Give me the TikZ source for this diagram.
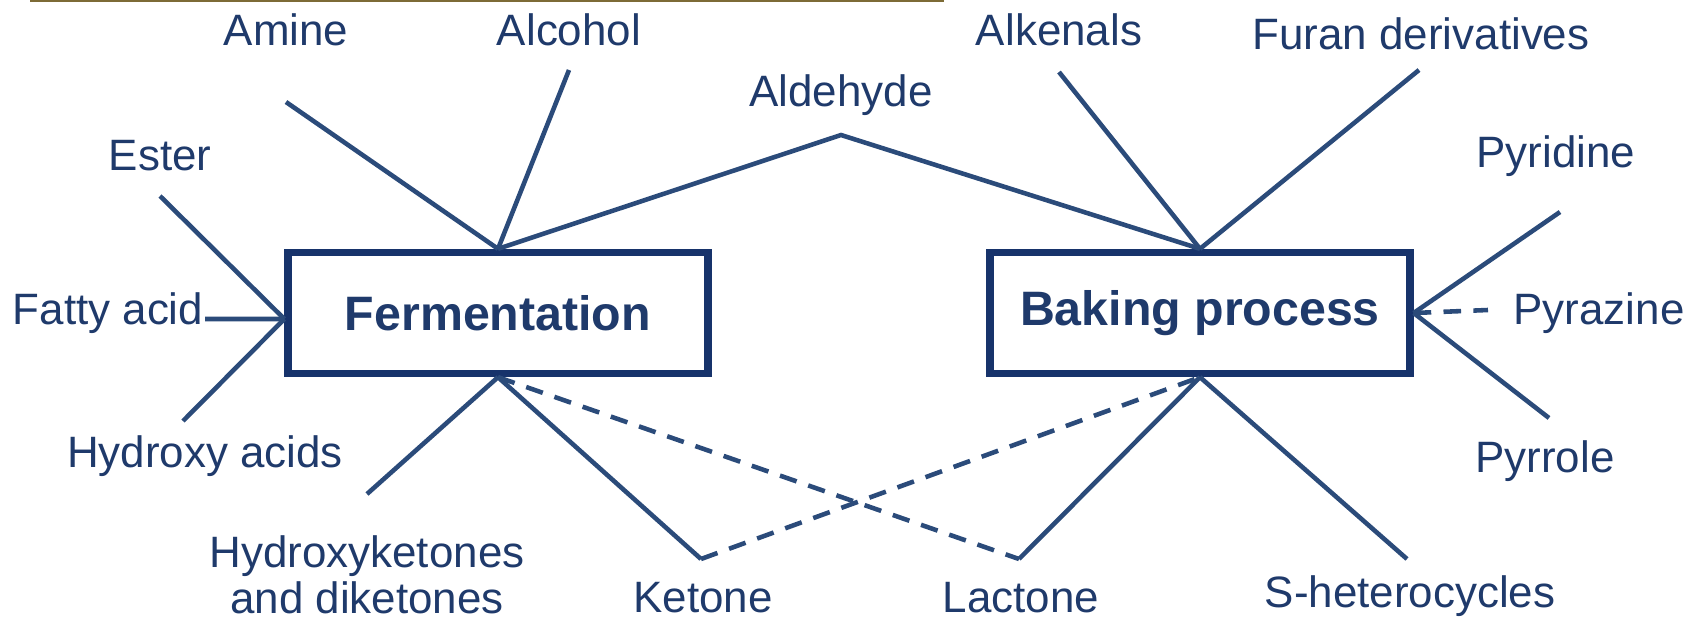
\documentclass[tikz,border=0pt]{standalone}
\usepackage{fontspec}
\setmainfont{Liberation Sans}
\usepackage{xcolor}
\definecolor{navy}{HTML}{1F3A6B}
\definecolor{inkblue}{HTML}{2B4B7A}
\definecolor{boxblue}{HTML}{17336B}
\definecolor{gilt}{HTML}{7D6B36}
\usetikzlibrary{positioning}
\tikzset{
  proc/.style ={draw=boxblue,line width=4.2pt,fill=white,
                minimum width=8.4cm,minimum height=2.42cm,
                font=\fontsize{27.5}{30}\selectfont\bfseries,text=navy},
  lbl/.style  ={font=\fontsize{25}{26.5}\selectfont,text=navy,
                inner sep=0pt,align=center},
  link/.style ={draw=inkblue,line width=2.6pt},
  weak/.style ={link,dash pattern=on 10pt off 7pt},
}

\begin{document}
\begin{tikzpicture}[x=0.02cm,y=-0.02cm]
\useasboundingbox (0,0) rectangle (1691,622);
% thin rule left over along the top edge
\coordinate (ruleL) at (30,1);
\coordinate (ruleR) at (944,1);
\draw[gilt,line width=1.2pt] (ruleL) -- (ruleR);
% the two processes
\node[proc] (ferm) at (498,313) {Fermentation};
\node[proc] (bake) at (1200,313) {Baking process};
% compound labels
\node[lbl] (amine)   at (286,30)  {Amine};
\node[lbl] (alcohol) at (569,30)  {Alcohol};
\node[lbl] (aldehyde) at (841,95) {Aldehyde};
\node[lbl] (ester)   at (160,156) {Ester};
\node[lbl] (fatty)   at (108,313) {Fatty acid};
\node[lbl] (hacids)  at (205,456) {Hydroxy acids};
\node[lbl] (hketo)   at (367,575) {Hydroxyketones\\and diketones};
\node[lbl] (ketone)  at (703,598) {Ketone};
\node[lbl] (lactone) at (1021,598) {Lactone};
\node[lbl] (shet)    at (1410,596) {S-heterocycles};
\node[lbl] (alkenal) at (1059,30) {Alkenals};
\node[lbl] (furan)   at (1421,34) {Furan derivatives};
\node[lbl] (pyridine) at (1556,156) {Pyridine};
\node[lbl] (pyrazine) at (1599,313) {Pyrazine};
\node[lbl] (pyrrole) at (1545,461) {Pyrrole};
% free ends of the spokes
\coordinate (amineE)   at (286,102);
\coordinate (alcoholE) at (569,70);
\coordinate (peak)     at (841,135);
\coordinate (esterE)   at (160,196);
\coordinate (fattyE)   at (205,319);
\coordinate (hacidsE)  at (183,421);
\coordinate (hketoE)   at (367,494);
\coordinate (ketoneE)  at (701,559);
\coordinate (lactoneE) at (1019,559);
\coordinate (shetE)    at (1407,559);
\coordinate (alkenalE) at (1059,72);
\coordinate (furanE)   at (1419,70);
\coordinate (pyridineE) at (1560,212);
\coordinate (pyrazineE) at (1488,310);
\coordinate (pyrroleE) at (1549,418);
\coordinate (fwest) at ([yshift=-0.12cm]ferm.west);
% fermentation spokes
\foreach \e in {amineE,alcoholE} \draw[link] (ferm.north) -- (\e);
\foreach \e in {esterE,fattyE,hacidsE} \draw[link] (fwest) -- (\e);
\draw[link] (ferm.south) -- (hketoE);
\draw[link] (ferm.north) -- (peak) -- (bake.north);
% ketone and lactone bridge both processes
\draw[link] (ferm.south) -- (ketoneE);
\draw[weak] (ketoneE) -- (bake.south);
\draw[weak] (ferm.south) -- (lactoneE);
\draw[link] (lactoneE) -- (bake.south);
% baking spokes
\foreach \e in {alkenalE,furanE} \draw[link] (bake.north) -- (\e);
\foreach \e in {pyridineE,pyrroleE} \draw[link] (bake.east) -- (\e);
\draw[link] (bake.south) -- (shetE);
\draw[weak] (bake.east) -- (pyrazineE);
\end{tikzpicture}
\end{document}
